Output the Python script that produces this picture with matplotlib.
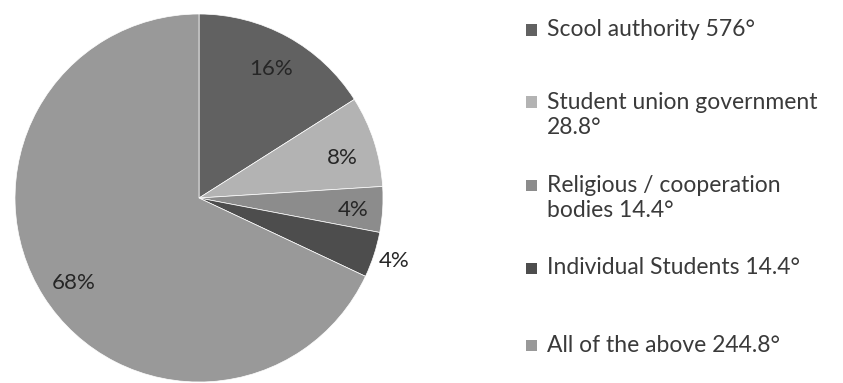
import matplotlib
matplotlib.use("Agg")
import matplotlib.pyplot as plt
from matplotlib.patches import Rectangle

plt.rcParams['font.family'] = ['Lato', 'DejaVu Sans']

categories = ["Scool authority 576\u00b0",
              "Student union government\n28.8\u00b0",
              "Religious / cooperation\nbodies 14.4\u00b0",
              "Individual Students 14.4\u00b0",
              "All of the above 244.8\u00b0"]
shares = [16, 8, 4, 4, 68]
colors = ["#616161", "#b3b3b3", "#8c8c8c", "#4d4d4d", "#999999"]

W, H = 843, 383
fig = plt.figure(figsize=(W / 100, H / 100), dpi=100)

cx, cy, r = 199, 198, 184
ax = fig.add_axes([(cx - r) / W, (H - cy - r) / H, 2 * r / W, 2 * r / H])
wedges, _ = ax.pie(shares, colors=colors, startangle=90, counterclock=False,
                   radius=1, wedgeprops=dict(linewidth=0.5, edgecolor="white"))
ax.set_xlim(-1, 1)
ax.set_ylim(-1, 1)
ax.set_aspect("equal")
ax.axis("off")

# percentage labels, in pie data coordinates
label_pos = [(0.39, 0.70), (0.78, 0.22), (0.84, -0.065), (1.06, -0.34), (-0.68, -0.46)]
for v, (lx, ly) in zip(shares, label_pos):
    ax.text(lx, ly, f"{v}%", ha="center", va="center",
            fontsize=16, color="#262626", clip_on=False)

# legend column
legend_y = [30, 115, 198, 268, 345]
for lab, col, y in zip(categories, colors, legend_y):
    n = lab.count("\n") + 1
    top = y - (n - 1) * 13
    fig.patches.append(Rectangle((526 / W, (H - top - 5.5) / H), 11 / W, 11 / H,
                                 transform=fig.transFigure, facecolor=col,
                                 edgecolor="none"))
    fig.text(547 / W, (H - y) / H, lab, ha="left", va="center", fontsize=16.5,
             color="#3a3a3a", linespacing=1.25)

fig.savefig("out.png", dpi=100, facecolor="white")
